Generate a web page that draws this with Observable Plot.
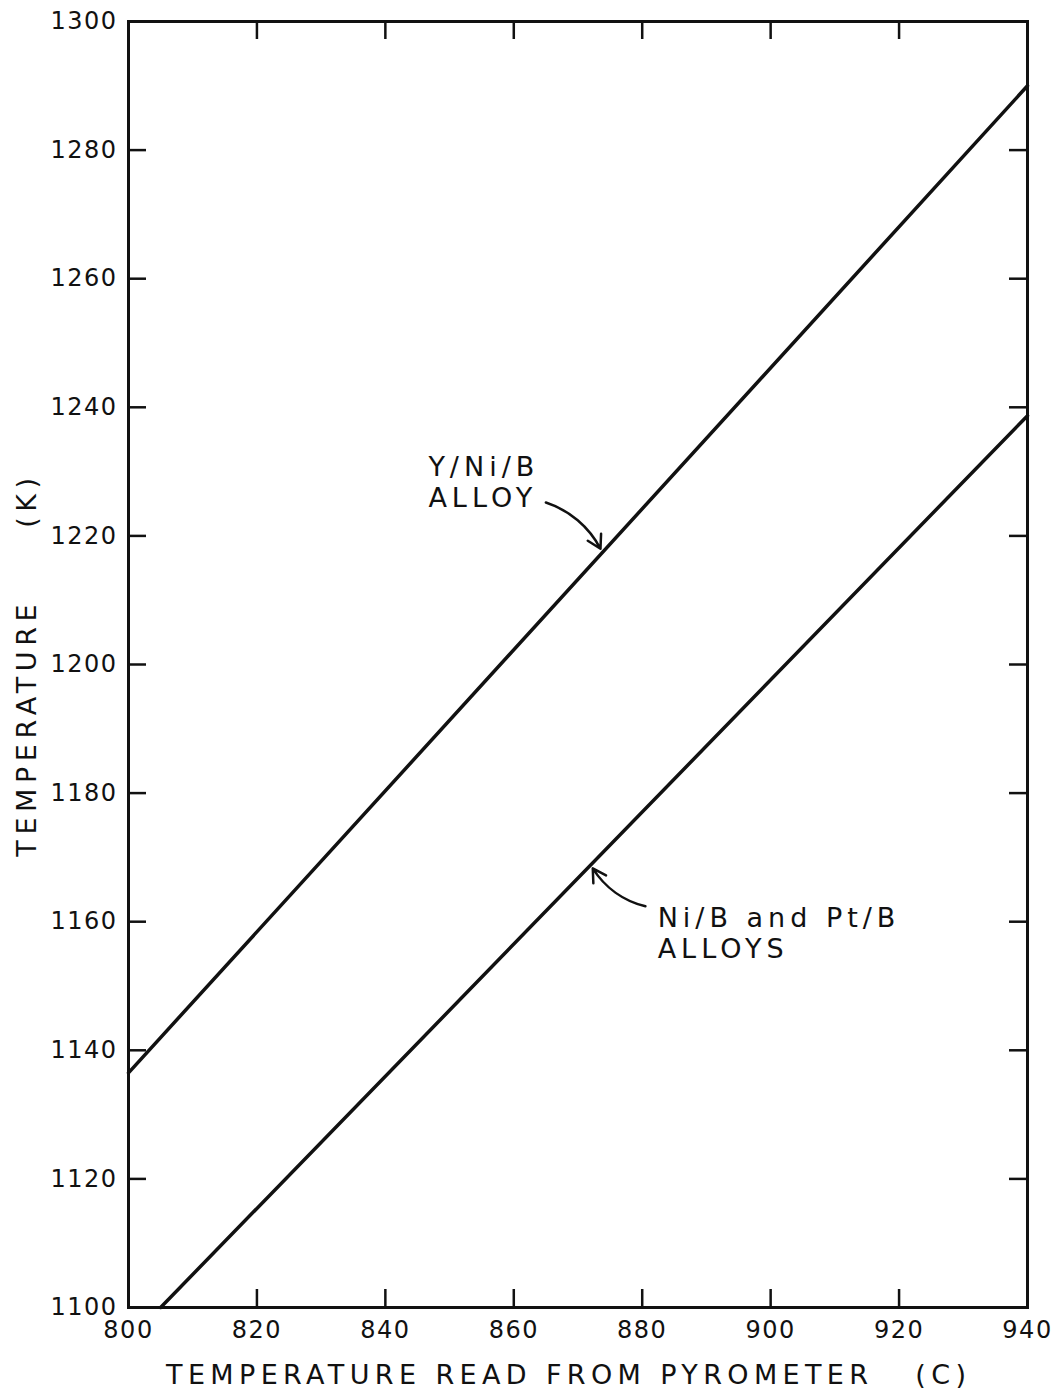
<!DOCTYPE html>
<html>
<head>
<meta charset="utf-8">
<script src="https://cdn.jsdelivr.net/npm/d3@7"></script>
<script src="https://cdn.jsdelivr.net/npm/@observablehq/plot@0.6"></script>
<style>
  html, body { margin: 0; padding: 0; background: #fff; }
  svg { display: block; }
</style>
</head>
<body>
<div id="chart"></div>
<script>
// ---- data ----
const pyroUpper = [800, 940];          // Y/Ni/B alloy, pyrometer reading (C)
const tempUpper = [1136.5, 1290];      // true temperature (K)
const pyroLower = [805, 940];          // Ni/B and Pt/B alloys
const tempLower = [1100, 1238.7];

const xTicks = [800, 820, 840, 860, 880, 900, 920, 940];
const yTicks = [1100, 1120, 1140, 1160, 1180, 1200, 1220, 1240, 1260, 1280, 1300];

const xTitle = "TEMPERATURE READ FROM PYROMETER\u00a0\u00a0\u00a0(C)";
const yTitle = "TEMPERATURE\u00a0\u00a0\u00a0\u00a0\u00a0(K)";

const labelText = ["Y/Ni/B\nALLOY", "Ni/B and Pt/B\nALLOYS"];
const labelX = [846.7, 882.4];
const labelY = [1228.5, 1158.3];

const arrowX1 = [865.0, 880.5];
const arrowY1 = [1225.2, 1162.4];
const arrowX2 = [873.5, 872.3];
const arrowY2 = [1218.0, 1168.3];

// ---- tables ----
const upper = pyroUpper.map((x, i) => ({x, y: tempUpper[i]}));
const lower = pyroLower.map((x, i) => ({x, y: tempLower[i]}));
const labels = labelText.map((t, i) => ({t, x: labelX[i], y: labelY[i]}));
const arrows = arrowX1.map((x1, i) => ({x1, y1: arrowY1[i], x2: arrowX2[i], y2: arrowY2[i]}));

const W = 1056, H = 1391;
const mL = 128, mR = 29, mT = 21, mB = 84;
const innerW = W - mL - mR, innerH = H - mT - mB;
const TICK = 18;
const font = "DejaVu Sans, Liberation Sans, sans-serif";

const plot = Plot.plot({
  width: W, height: H,
  marginLeft: mL, marginRight: mR, marginTop: mT, marginBottom: mB,
  style: {fontFamily: font, fontSize: "24px", color: "#111", background: "#fff"},
  x: {domain: [800, 940], ticks: xTicks, label: null},
  y: {domain: [1100, 1300], ticks: yTicks, label: null},
  marks: [
    Plot.axisX({ticks: xTicks, tickSize: 0, tickPadding: 13, fontSize: 24, tickFormat: d => String(d)}),
    Plot.axisY({ticks: yTicks, tickSize: 0, tickPadding: 11, fontSize: 24, tickFormat: d => String(d)}),
    // inward ticks on all four sides
    Plot.tickY(yTicks, {y: d => d, insetRight: innerW - TICK, stroke: "#111", strokeWidth: 2.5}),
    Plot.tickY(yTicks, {y: d => d, insetLeft: innerW - TICK, stroke: "#111", strokeWidth: 2.5}),
    Plot.tickX(xTicks, {x: d => d, insetTop: innerH - TICK, stroke: "#111", strokeWidth: 2.5}),
    Plot.tickX(xTicks, {x: d => d, insetBottom: innerH - TICK, stroke: "#111", strokeWidth: 2.5}),
    Plot.frame({stroke: "#111", strokeWidth: 3}),
    Plot.line(upper, {x: "x", y: "y", stroke: "#111", strokeWidth: 3.5}),
    Plot.line(lower, {x: "x", y: "y", stroke: "#111", strokeWidth: 3.5}),
    Plot.arrow(arrows, {x1: "x1", y1: "y1", x2: "x2", y2: "y2", bend: 22, headLength: 9, stroke: "#111", strokeWidth: 2.5}),
    Plot.text(labels, {x: "x", y: "y", text: "t", textAnchor: "start", lineAnchor: "middle", lineHeight: 1.15, fontSize: 27, fill: "#111"}),
    Plot.text([xTitle], {frameAnchor: "bottom", textAnchor: "middle", dy: 76, dx: -12, fontSize: 27, fill: "#111"}),
    Plot.text([yTitle], {frameAnchor: "left", textAnchor: "middle", dx: -101, rotate: -90, fontSize: 27, fill: "#111"})
  ]
});

// letter spacing / text lengths to mimic lettering-guide style
d3.select(plot).selectAll("text").each(function() {
  const s = this.textContent;
  if (s === xTitle) {
    d3.select(this).attr("textLength", 800).attr("lengthAdjust", "spacing");
  } else if (s === yTitle) {
    d3.select(this).style("letter-spacing", "5.6px");
  } else if (s.includes("ALLOY") || s.includes("/B")) {
    d3.select(this).style("letter-spacing", "5px");
  } else {
    d3.select(this).style("letter-spacing", "1.5px");
  }
});

document.getElementById("chart").appendChild(plot);
</script>
</body>
</html>
